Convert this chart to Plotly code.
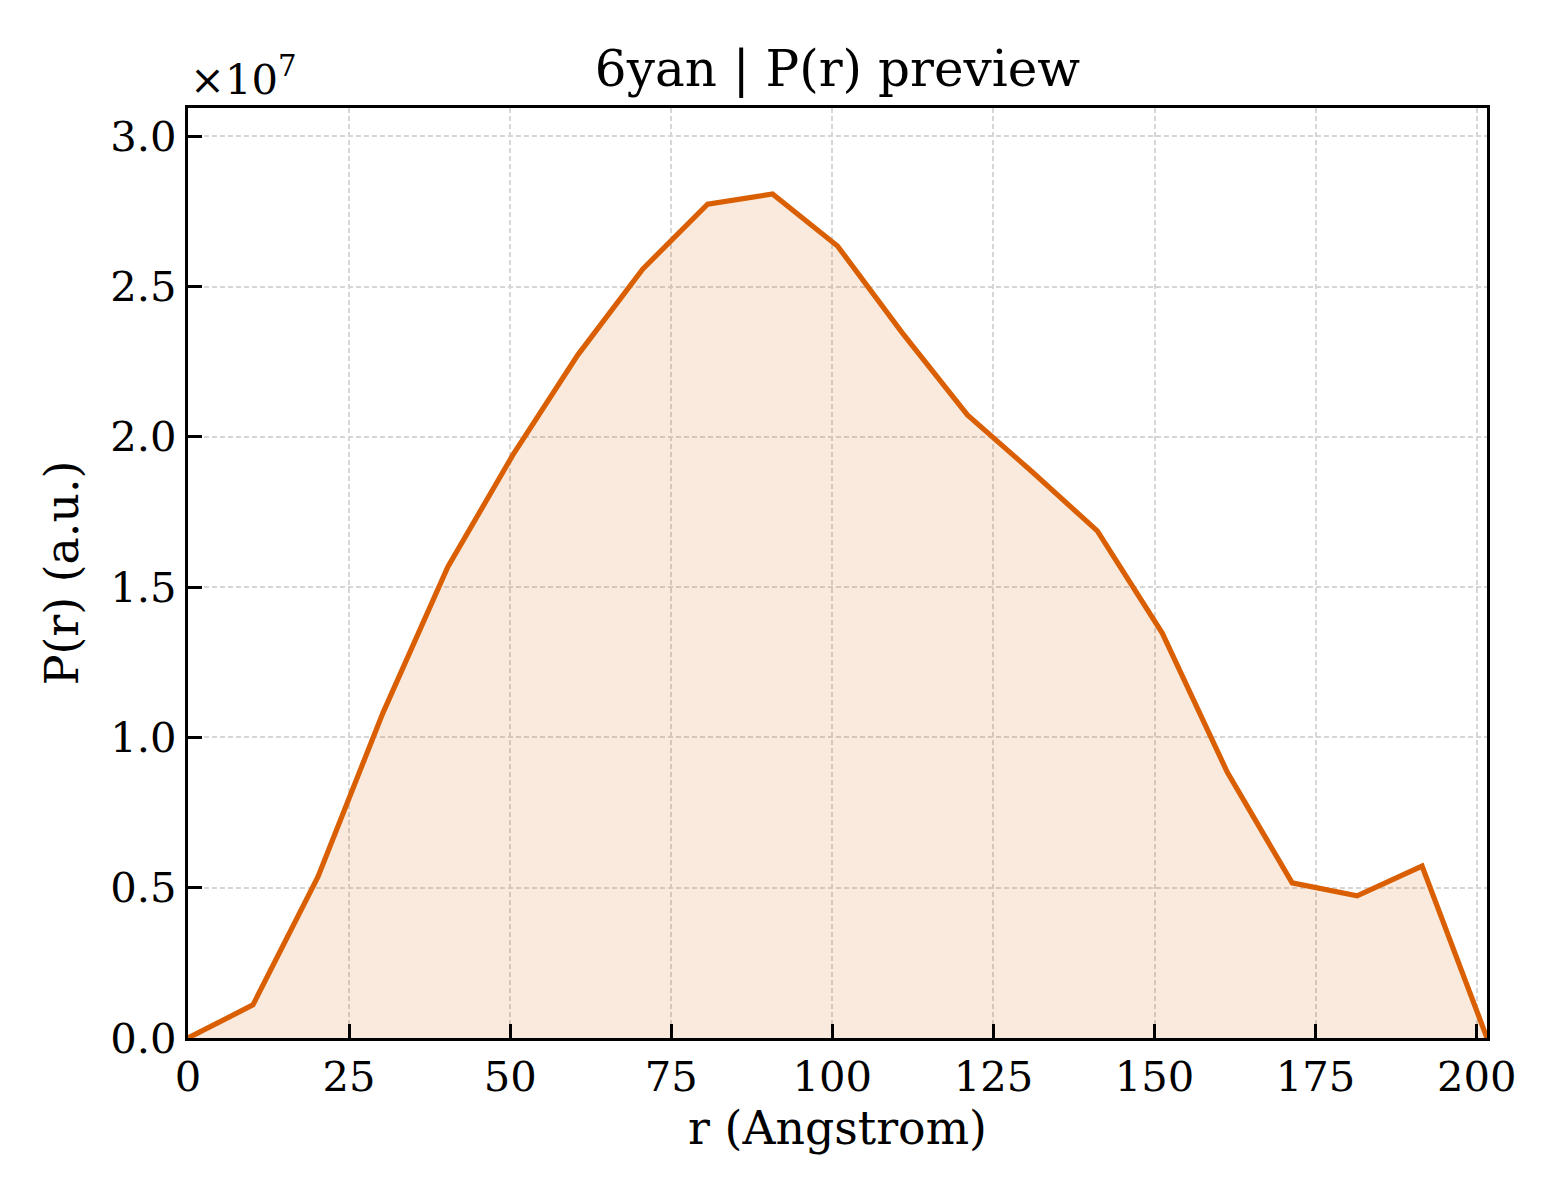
"""P(r) preview for 6yan, drawn with plotly in a matplotlib-like style."""

import numpy as np
import plotly.graph_objects as go

# r grid (Angstrom) and P(r) values
r_values = [0.0, 10.08, 20.16, 30.24, 40.32, 50.40, 60.48, 70.56, 80.64, 90.72,
            100.80, 110.88, 120.96, 131.04, 141.12, 151.20, 161.28, 171.36,
            181.44, 191.52, 201.60]
p_values = [0.0, 0.110e7, 0.536e7, 1.081e7, 1.567e7, 1.939e7, 2.272e7, 2.558e7,
            2.774e7, 2.808e7, 2.635e7, 2.345e7, 2.073e7, 1.883e7, 1.687e7,
            1.347e7, 0.885e7, 0.516e7, 0.473e7, 0.572e7, 0.0]

x_ticks = [0, 25, 50, 75, 100, 125, 150, 175, 200]
y_ticks = [0.0, 0.5, 1.0, 1.5, 2.0, 2.5, 3.0]
scale = 1e7

line_color = "#d95f02"
font_family = "DejaVu Serif"

p_scaled = np.array(p_values) / scale

fig = go.Figure()
fig.add_trace(go.Scatter(
    x=r_values, y=p_scaled, mode="lines",
    line=dict(color=line_color, width=5.2),
    fill="tozeroy", fillcolor="rgba(217,95,2,0.13)",
    showlegend=False,
))

axis_common = dict(
    showline=True, linecolor="black", linewidth=3, mirror=True,
    ticks="inside", ticklen=14, tickwidth=3, tickcolor="black",
    showgrid=True, gridcolor="#d6d6d6", gridwidth=1.8, griddash="5px,3px",
    zeroline=False,
    tickfont=dict(family=font_family, size=41.7, color="black"),
)

# the page body has an 8px margin, so the figure is a bit smaller than the window
fig.update_xaxes(
    range=[0, r_values[-1]], tickvals=x_ticks,
    title=dict(text="r (Angstrom)", font=dict(family=font_family, size=45.8, color="black"),
               standoff=12),
    **axis_common,
)
fig.update_yaxes(
    range=[0, 3.094], tickvals=y_ticks, tickformat=".1f",
    title=dict(text="P(r) (a.u.)", font=dict(family=font_family, size=45.8, color="black"),
               standoff=18),
    **axis_common,
)

fig.add_annotation(
    text="×10<sup>7</sup>", xref="paper", yref="paper", x=0, y=1,
    xanchor="left", yanchor="bottom", showarrow=False, yshift=2,
    font=dict(family=font_family, size=41.7, color="black"),
)

fig.update_layout(
    width=1552, height=1192,
    margin=dict(l=180, r=73, t=100, b=162),
    paper_bgcolor="white", plot_bgcolor="white",
    title=dict(text="6yan | P(r) preview", x=0.5, xref="paper", xanchor="center",
               y=1 - 60 / 1192, yanchor="middle",
               font=dict(family=font_family, size=50, color="black")),
)

fig.write_html("out.html")
